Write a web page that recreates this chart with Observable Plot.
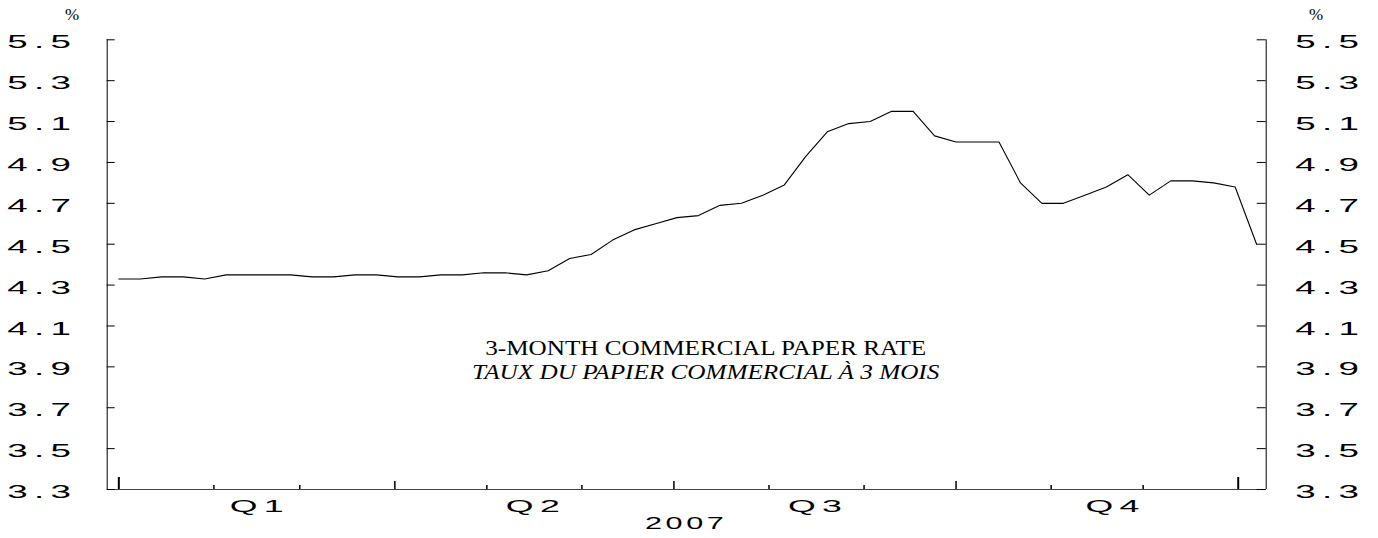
<!DOCTYPE html>
<html>
<head>
<meta charset="utf-8">
<script src="https://cdn.jsdelivr.net/npm/d3@7"></script>
<script src="https://cdn.jsdelivr.net/npm/@observablehq/plot@0.6"></script>
<style>
  html, body { margin: 0; padding: 0; background: #fff; }
  #chart svg { display: block; }
</style>
</head>
<body>
<div id="chart"></div>
<script>
// ---- data ----
const weekDates = [
  "2007-01-01","2007-01-08","2007-01-15","2007-01-22","2007-01-29",
  "2007-02-05","2007-02-12","2007-02-19","2007-02-26",
  "2007-03-05","2007-03-12","2007-03-19","2007-03-26",
  "2007-04-02","2007-04-09","2007-04-16","2007-04-23","2007-04-30",
  "2007-05-07","2007-05-14","2007-05-21","2007-05-28",
  "2007-06-04","2007-06-11","2007-06-18","2007-06-25",
  "2007-07-02","2007-07-09","2007-07-16","2007-07-23","2007-07-30",
  "2007-08-06","2007-08-13","2007-08-20","2007-08-27",
  "2007-09-03","2007-09-10","2007-09-17","2007-09-24",
  "2007-10-01","2007-10-08","2007-10-15","2007-10-22","2007-10-29",
  "2007-11-05","2007-11-12","2007-11-19","2007-11-26",
  "2007-12-03","2007-12-10","2007-12-17","2007-12-24","2007-12-31",
  "2008-01-07"
];
const rates = [
  4.33, 4.33, 4.34, 4.34, 4.33,
  4.35, 4.35, 4.35, 4.35,
  4.34, 4.34, 4.35, 4.35,
  4.34, 4.34, 4.35, 4.35, 4.36,
  4.36, 4.35, 4.37, 4.43,
  4.45, 4.52, 4.57, 4.60,
  4.63, 4.64, 4.69, 4.70, 4.74,
  4.79, 4.93, 5.05, 5.09,
  5.10, 5.15, 5.15, 5.03,
  5.00, 5.00, 5.00, 4.80, 4.70,
  4.70, 4.74, 4.78, 4.84,
  4.74, 4.81, 4.81, 4.80, 4.78,
  4.50
];
const yTicks = [3.3, 3.5, 3.7, 3.9, 4.1, 4.3, 4.5, 4.7, 4.9, 5.1, 5.3, 5.5];
const yTickLabels = ["3.3", "3.5", "3.7", "3.9", "4.1", "4.3", "4.5", "4.7", "4.9", "5.1", "5.3", "5.5"];
const yDomain = [3.3, 5.5];
const xDomain = ["2006-12-28T05:00:00Z", "2008-01-10T03:00:00Z"];
const monthTicks = ["2007-02-01","2007-03-01","2007-05-01","2007-06-01","2007-08-01","2007-09-01","2007-11-01","2007-12-01"];
const quarterTicks = ["2007-04-01","2007-07-01","2007-10-01"];
const yearTicks = ["2007-01-01","2008-01-01"];
const quarterLabels = ["Q1", "Q2", "Q3", "Q4"];
const quarterLabelDates = ["2007-02-16","2007-05-17","2007-08-17","2007-11-22"];
const yearLabels = ["2007"];
const yearLabelDates = ["2007-07-05"];
const titleEn = "3-MONTH COMMERCIAL PAPER RATE";
const titleFr = "TAUX DU PAPIER COMMERCIAL À 3 MOIS";
const unitLabel = "%";

// ---- build ----
const toDate = s => new Date(s);
const series = weekDates.map((d, i) => ({date: toDate(d), rate: rates[i]}));
const yTickRows = yTicks.map((v, i) => ({v, label: yTickLabels[i]}));

const W = 1378, H = 538;
const mTop = 39.3, mBottom = 49, mLeft = 106.7, mRight = 112.3;
const frameW = W - mLeft - mRight;
const frameH = H - mTop - mBottom;

const sans = "Liberation Sans, Arial, sans-serif";
const serif = "Liberation Serif, Times New Roman, serif";

const chart = Plot.plot({
  width: W,
  height: H,
  marginTop: mTop,
  marginBottom: mBottom,
  marginLeft: mLeft,
  marginRight: mRight,
  style: {background: "#fff", overflow: "visible"},
  x: {type: "utc", domain: xDomain.map(toDate), axis: null},
  y: {domain: yDomain, axis: null},
  marks: [
    Plot.ruleX([xDomain[0], xDomain[1]].map(toDate), {stroke: "#000", strokeWidth: 1}),
    Plot.ruleY([yDomain[0]], {stroke: "#444", strokeWidth: 1}),
    Plot.tickY(yTicks, {y: d => d, insetRight: frameW - 8, stroke: "#000", strokeWidth: 1}),
    Plot.tickY(yTicks, {y: d => d, insetLeft: frameW - 9, stroke: "#000", strokeWidth: 1}),
    Plot.tickX(monthTicks.map(toDate), {x: d => d, insetTop: frameH - 4, stroke: "#000", strokeWidth: 1.5}),
    Plot.tickX(quarterTicks.map(toDate), {x: d => d, insetTop: frameH - 8, stroke: "#000", strokeWidth: 1.5}),
    Plot.tickX(yearTicks.map(toDate), {x: d => d, insetTop: frameH - 12, stroke: "#000", strokeWidth: 2}),
    Plot.text(yTickRows, {y: "v", text: "label", frameAnchor: "left", textAnchor: "end", dx: -30, dy: 3,
      fontFamily: sans, fontSize: 17.5, fill: "#000"}),
    Plot.text(yTickRows, {y: "v", text: "label", frameAnchor: "right", textAnchor: "start", dx: 29, dy: 3,
      fontFamily: sans, fontSize: 17.5, fill: "#000"}),
    Plot.text(quarterLabels, {x: (d, i) => toDate(quarterLabelDates[i]), text: d => d, frameAnchor: "bottom",
      lineAnchor: "middle", textAnchor: "middle", dy: 17, fontFamily: sans, fontSize: 17, fill: "#000"}),
    Plot.text(yearLabels, {x: (d, i) => toDate(yearLabelDates[i]), text: d => d, frameAnchor: "bottom",
      lineAnchor: "middle", textAnchor: "middle", dy: 34, fontFamily: sans, fontSize: 17, fill: "#000"}),
    Plot.text([unitLabel], {text: d => d, frameAnchor: "top-left", textAnchor: "middle", lineAnchor: "middle",
      dx: -35, dy: -25, fontFamily: serif, fontSize: 17, fill: "#000"}),
    Plot.text([unitLabel], {text: d => d, frameAnchor: "top-right", textAnchor: "middle", lineAnchor: "middle",
      dx: 50, dy: -25, fontFamily: serif, fontSize: 17, fill: "#000"}),
    Plot.text([titleEn], {text: d => d, frameAnchor: "middle", textAnchor: "middle", lineAnchor: "middle",
      dx: 19, dy: 84, fontFamily: serif, fontSize: 20, fill: "#000"}),
    Plot.text([titleFr], {text: d => d, frameAnchor: "middle", textAnchor: "middle", lineAnchor: "middle",
      dx: 19, dy: 108, fontFamily: serif, fontSize: 20, fontStyle: "italic", fill: "#000"}),
    Plot.line(series, {x: "date", y: "rate", stroke: "#000", strokeWidth: 1.1})
  ]
});

// horizontal stretch of the wide-glyph labels, keeping each text's anchor point
function stretchText(t, sx, ls) {
  const tr = t.getAttribute("transform");
  if (tr && /translate/.test(tr)) {
    t.setAttribute("transform", tr + ` scale(${sx},1)`);
  } else {
    const x = +(t.getAttribute("x") || 0);
    t.setAttribute("transform", `translate(${x},0) scale(${sx},1) translate(${-x},0)`);
  }
  if (ls) t.style.letterSpacing = ls + "px";
}
const axisTexts = new Set([...yTickLabels, ...quarterLabels]);
const yearTexts = new Set(yearLabels);
const titleTexts = new Set([titleEn, titleFr]);
chart.querySelectorAll("text").forEach(t => {
  const s = t.textContent;
  if (axisTexts.has(s)) stretchText(t, 2.1, 3);
  else if (yearTexts.has(s)) stretchText(t, 1.8, 2);
  else if (titleTexts.has(s)) stretchText(t, 1.26, 0);
});

document.getElementById("chart").appendChild(chart);
</script>
</body>
</html>
